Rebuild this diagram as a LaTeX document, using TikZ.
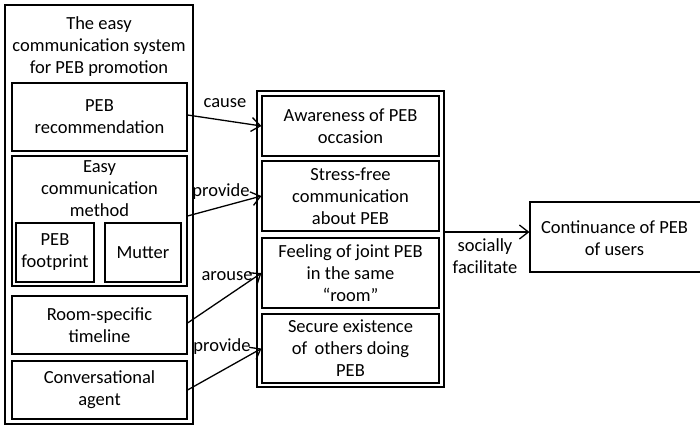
\documentclass[tikz,border=0pt]{standalone}
\usepackage{fontspec}
\setmainfont{Carlito}
\usetikzlibrary{arrows.meta}
\begin{document}
\begin{tikzpicture}[x=1pt,y=-1pt,
  box/.style={draw,line width=1.1pt,rectangle,inner sep=0pt,align=center,
    font=\fontsize{18.5}{22}\selectfont},
  txt/.style={inner sep=0pt,align=center,font=\fontsize{18.5}{22}\selectfont},
  arr/.style={line width=1.3pt,-{Straight Barb[length=9pt,width=14pt,line width=1.3pt]}}]
\useasboundingbox (0,0) rectangle (700,426);
% left system box
\node[box,minimum width=188pt,minimum height=419pt] (sys) at (99,214.5) {};
\node[txt] (systitle) at (99,46.5) {The easy\\communication system\\for PEB promotion};
\node[box,minimum width=175pt,minimum height=68pt] (rec) at (99.5,117) {PEB\\recommendation};
\node[box,minimum width=175pt,minimum height=130pt] (ecm) at (99.5,221) {};
\node[txt] (ecmtext) at (99.5,188.5) {Easy\\communication\\method};
\node[box,minimum width=78pt,minimum height=59pt] (fp) at (55,252.5) {PEB\\footprint};
\node[box,minimum width=76pt,minimum height=59pt] (mut) at (143,252.5) {Mutter};
\node[box,minimum width=175pt,minimum height=58pt] (rst) at (99.5,325) {Room-specific\\timeline};
\node[box,minimum width=175pt,minimum height=58pt] (ca) at (99.5,390) {Conversational\\agent};
% middle box
\node[box,minimum width=187pt,minimum height=296pt] (mid) at (350.5,239) {};
\node[box,minimum width=177pt,minimum height=60pt] (aw) at (350.5,126) {Awareness of PEB\\occasion};
\node[box,minimum width=177pt,minimum height=70pt] (sf) at (350.5,196) {Stress-free\\communication\\about PEB};
\node[box,minimum width=177pt,minimum height=70pt] (fj) at (350.5,273) {Feeling of joint PEB\\in the same\\“room”};
\node[box,minimum width=177pt,minimum height=69pt] (se) at (350.5,348.5) {Secure existence\\of\, others doing\\PEB};
% right box
\node[box,minimum width=172pt,minimum height=70pt] (cont) at (616,237) {};
\node[txt] (conttext) at (614.5,238.5) {Continuance of PEB\\of users};
% arrows
\draw[arr] ([yshift=2pt]rec.east) -- (aw.west);
\draw[arr] ([yshift=5pt]ecm.east) -- (sf.west);
\draw[arr] ([yshift=2pt]rst.east) -- (fj.west);
\draw[arr] (ca.east) -- (se.west);
\draw[arr] ([yshift=7pt]mid.east) -- ([yshift=5pt]cont.west);
% labels
\node[txt] (lcause) at (225,103) {cause};
\node[txt] (lprov1) at (221,192) {provide};
\node[txt] (larouse) at (227,276) {arouse};
\node[txt] (lprov2) at (222,347) {provide};
\node[txt] (lsoc) at (485,256) {socially\\facilitate};
\end{tikzpicture}
\end{document}
